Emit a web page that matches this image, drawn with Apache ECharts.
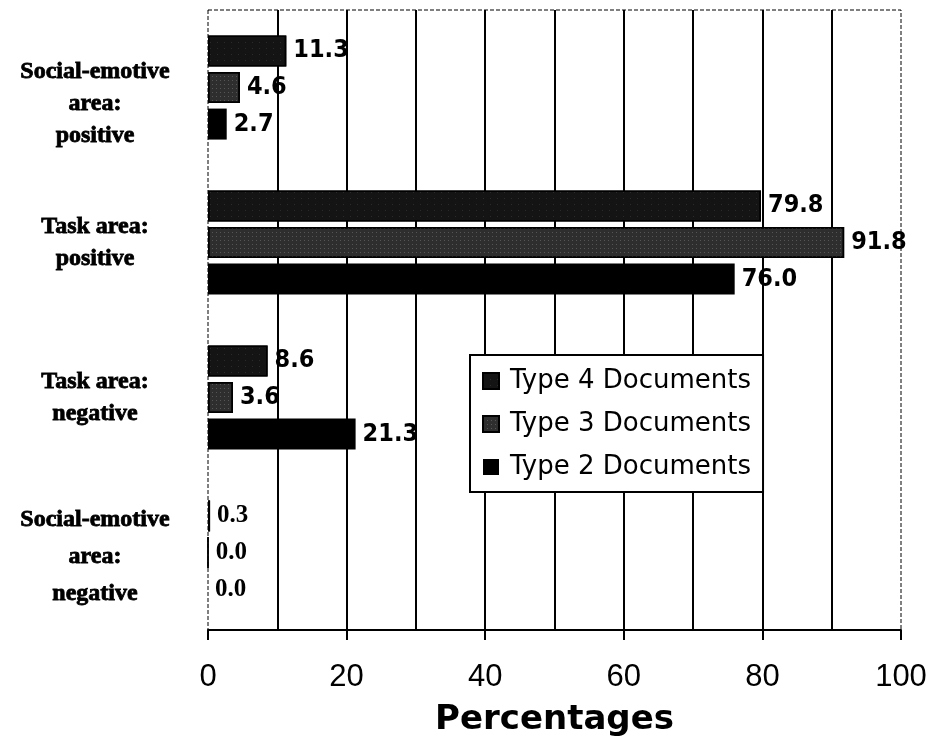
<!DOCTYPE html>
<html>
<head>
<meta charset="utf-8">
<script src="https://cdn.jsdelivr.net/npm/echarts@6/dist/echarts.min.js"></script>
<style>
  html, body { margin: 0; padding: 0; background: #fff; }
  #chart { width: 931px; height: 746px; }
</style>
</head>
<body>
<div id="chart"></div>
<script>
var categories = ['Social-emotive\narea:\npositive', 'Task area:\npositive', 'Task area:\nnegative', 'Social-emotive\narea:\nnegative'];
var type4 = [11.3, 79.8, 8.6, 0.3];
var type3 = [4.6, 91.8, 3.6, 0.0];
var type2 = [2.7, 76.0, 21.3, 0.0];
var seriesNames = ['Type 4 Documents', 'Type 3 Documents', 'Type 2 Documents'];

var myChart = echarts.init(document.getElementById('chart'));

// last category uses a serif label font in the original
function withLabels(arr) {
  return arr.map(function (v, i) {
    if (i === 3) {
      return { value: v, label: { fontFamily: 'Liberation Serif', fontSize: 25 } };
    }
    return v;
  });
}

var catFont = {
  fontFamily: 'Liberation Serif',
  fontWeight: 'bold',
  fontSize: 24,
  color: '#000',
  textBorderColor: '#000',
  textBorderWidth: 0.8,
  align: 'center'
};

var labelStyle = {
  show: true,
  position: 'right',
  distance: 7,
  color: '#000',
  fontFamily: "'DejaVu Sans Condensed', 'Liberation Sans Narrow', 'Liberation Sans', sans-serif",
  fontWeight: 'bold',
  fontSize: 25,
  formatter: function (p) { return p.value.toFixed(1); }
};

var option = {
  animation: false,
  backgroundColor: '#fff',
  grid: {
    left: 208, right: 30, top: 10, bottom: 116,
    show: true,
    borderColor: '#000',
    borderWidth: 1,
    borderType: 'dashed',
    outerBoundsMode: 'none'
  },
  legend: {
    orient: 'vertical',
    left: 470,
    top: 355,
    backgroundColor: '#fff',
    borderColor: '#000',
    borderWidth: 2,
    borderRadius: 0,
    padding: [13, 12, 12, 12],
    itemGap: 17,
    itemWidth: 16,
    itemHeight: 16,
    icon: 'rect',
    data: seriesNames,
    textStyle: { fontFamily: 'DejaVu Sans', fontSize: 26, color: '#000', padding: [0, 0, 0, 6] }
  },
  xAxis: {
    type: 'value',
    min: 0,
    max: 100,
    interval: 20,
    name: 'Percentages',
    nameLocation: 'middle',
    nameGap: 73,
    nameTextStyle: { fontFamily: 'DejaVu Sans', fontWeight: 'bold', fontSize: 34, color: '#000' },
    axisLine: { show: true, lineStyle: { color: '#000', width: 2 } },
    axisTick: { show: true, length: 10, lineStyle: { color: '#000', width: 2 } },
    axisLabel: { margin: 32, fontFamily: 'Liberation Sans', fontSize: 31, color: '#000' },
    splitLine: { show: true, showMinLine: false, showMaxLine: false, lineStyle: { color: '#000', width: 2 } },
    minorTick: { show: false, splitNumber: 2 },
    minorSplitLine: { show: true, lineStyle: { color: '#000', width: 2 } }
  },
  yAxis: {
    type: 'category',
    inverse: true,
    data: categories,
    axisLine: { show: false },
    axisTick: { show: false },
    axisLabel: {
      margin: 113,
      align: 'center',
      fontFamily: 'Liberation Serif',
      fontWeight: 'bold',
      fontSize: 24,
      lineHeight: 32,
      color: '#000',
      textBorderColor: '#000',
      textBorderWidth: 0.8,
      // the first label sits lower and the last one is spaced wider in the original
      formatter: function (value, index) {
        var lines = value.split('\n');
        if (index === 0) {
          return '{sp|}\n' + lines.map(function (l) { return '{a|' + l + '}'; }).join('\n');
        }
        if (index === 3) {
          return '{sm|}\n' + lines.map(function (l) { return '{b|' + l + '}'; }).join('\n');
        }
        return lines.map(function (l) { return '{a|' + l + '}'; }).join('\n');
      },
      rich: {
        a: Object.assign({ lineHeight: 32 }, catFont),
        b: Object.assign({ lineHeight: 37 }, catFont),
        sp: { height: 32, lineHeight: 32 },
        sm: { height: 8, lineHeight: 8 }
      }
    }
  },
  series: [
    {
      name: seriesNames[0],
      type: 'bar',
      data: withLabels(type4),
      barWidth: 31,
      barGap: '18%',
      itemStyle: {
        color: '#141414',
        borderColor: '#000',
        borderWidth: 1.5,
        decal: { symbol: 'rect', symbolSize: 0.6, color: 'rgba(255,255,255,0.35)', dashArrayX: [1, 6], dashArrayY: [1, 5], rotation: 0 }
      },
      label: labelStyle
    },
    {
      name: seriesNames[1],
      type: 'bar',
      data: withLabels(type3),
      barWidth: 31,
      barGap: '18%',
      itemStyle: {
        color: '#2e2e2e',
        borderColor: '#000',
        borderWidth: 1.5,
        decal: { symbol: 'rect', symbolSize: 0.7, color: 'rgba(255,255,255,0.55)', dashArrayX: [1, 3], dashArrayY: [1, 3], rotation: 0 }
      },
      label: labelStyle
    },
    {
      name: seriesNames[2],
      type: 'bar',
      data: withLabels(type2),
      barWidth: 31,
      barGap: '18%',
      itemStyle: { color: '#000' },
      label: labelStyle
    }
  ]
};

myChart.setOption(option);
</script>
</body>
</html>
